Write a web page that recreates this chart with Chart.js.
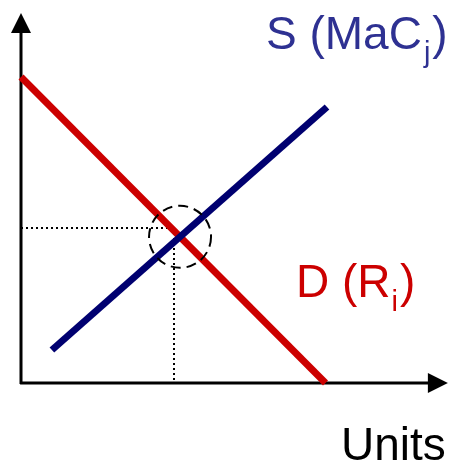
<!DOCTYPE html>
<html>
<head>
<meta charset="utf-8">
<script src="https://cdn.jsdelivr.net/npm/chart.js@4"></script>
<style>
  body { margin: 0; background: #fff; }
  canvas { display: block; }
</style>
</head>
<body>
<canvas id="supplyDemand" width="453" height="462"></canvas>
<script>
// values (quantity on x, price on y)
const supplyLine = [{x: 1.03, y: 1.1}, {x: 10.2, y: 9.2}];     // S (MaC_j)
const demandLine = [{x: 0.0, y: 10.2}, {x: 10.15, y: 0.0}];    // D (R_i)
const guidePoint = {x: 5.1, y: 5.17};                           // dotted guides
const xAxisLine = [{x: -0.03, y: 0}, {x: 13.6, y: 0}];
const yAxisLine = [{x: 0, y: -0.03}, {x: 0, y: 11.67}];
const axisTips = {x: 14.23, y: 12.33};
const labels = ['S (MaC', 'j', ')', 'D (R', 'i', ')', 'Units'];

// where the two lines cross
function crossing(a, b) {
  const m1 = (a[1].y - a[0].y) / (a[1].x - a[0].x);
  const m2 = (b[1].y - b[0].y) / (b[1].x - b[0].x);
  const x = (b[0].y - a[0].y + m1 * a[0].x - m2 * b[0].x) / (m1 - m2);
  return {x: x, y: a[0].y + m1 * (x - a[0].x)};
}

const extras = {
  id: 'extras',
  afterDatasetsDraw(chart) {
    const ctx = chart.ctx;
    const sx = chart.scales.x, sy = chart.scales.y;
    const px = v => sx.getPixelForValue(v);
    const py = v => sy.getPixelForValue(v);
    ctx.save();

    // arrowheads
    ctx.fillStyle = '#000';
    ctx.beginPath();
    ctx.moveTo(px(0), py(axisTips.y));
    ctx.lineTo(px(0) - 10, py(axisTips.y) + 20);
    ctx.lineTo(px(0) + 10, py(axisTips.y) + 20);
    ctx.closePath();
    ctx.fill();
    ctx.beginPath();
    ctx.moveTo(px(axisTips.x), py(0));
    ctx.lineTo(px(axisTips.x) - 20, py(0) - 10);
    ctx.lineTo(px(axisTips.x) - 20, py(0) + 10);
    ctx.closePath();
    ctx.fill();

    // dashed circle round the equilibrium
    const c = crossing(supplyLine, demandLine);
    ctx.strokeStyle = '#000';
    ctx.lineWidth = 2;
    ctx.setLineDash([10, 6]);
    ctx.beginPath();
    ctx.arc(px(c.x), py(c.y), 31, 0, Math.PI * 2);
    ctx.stroke();
    ctx.setLineDash([]);

    // labels
    const big = '46px "Liberation Sans", Arial, sans-serif';
    const small = '29px "Liberation Sans", Arial, sans-serif';
    ctx.textBaseline = 'alphabetic';
    ctx.textAlign = 'left';

    let x = 266, y = 49;
    ctx.fillStyle = '#2e3192';
    ctx.font = big; ctx.fillText(labels[0], x, y); x += ctx.measureText(labels[0]).width + 2;
    ctx.font = small; ctx.fillText(labels[1], x, y + 13); x += ctx.measureText(labels[1]).width + 2;
    ctx.font = big; ctx.fillText(labels[2], x, y);

    x = 296; y = 297;
    ctx.fillStyle = '#cc0000';
    ctx.font = big; ctx.fillText(labels[3], x, y); x += ctx.measureText(labels[3]).width + 1;
    ctx.font = small; ctx.fillText(labels[4], x, y + 14); x += ctx.measureText(labels[4]).width + 2;
    ctx.font = big; ctx.fillText(labels[5], x, y);

    ctx.fillStyle = '#000';
    ctx.font = big; ctx.fillText(labels[6], 341, 460);
    ctx.restore();
  }
};

const line = (data, color, width, dash) => ({
  data: data, showLine: true, borderColor: color, borderWidth: width,
  borderDash: dash || [], pointRadius: 0, borderCapStyle: 'butt', fill: false
});

new Chart(document.getElementById('supplyDemand'), {
  type: 'scatter',
  data: {
    datasets: [
      line(supplyLine, '#000070', 7),
      line(demandLine, '#cc0000', 7),
      line([{x: 0, y: guidePoint.y}, guidePoint], '#000', 2, [2, 3]),
      line([guidePoint, {x: guidePoint.x, y: 0}], '#000', 2, [2, 3]),
      line(xAxisLine, '#000', 3),
      line(yAxisLine, '#000', 3)
    ]
  },
  options: {
    responsive: false,
    animation: false,
    layout: { padding: 0 },
    plugins: { legend: { display: false }, tooltip: { enabled: false } },
    scales: {
      x: { type: 'linear', display: false, min: -0.7, max: 14.4 },
      y: { type: 'linear', display: false, min: -2.6333, max: 12.7667 }
    }
  },
  plugins: [extras]
});
</script>
</body>
</html>
